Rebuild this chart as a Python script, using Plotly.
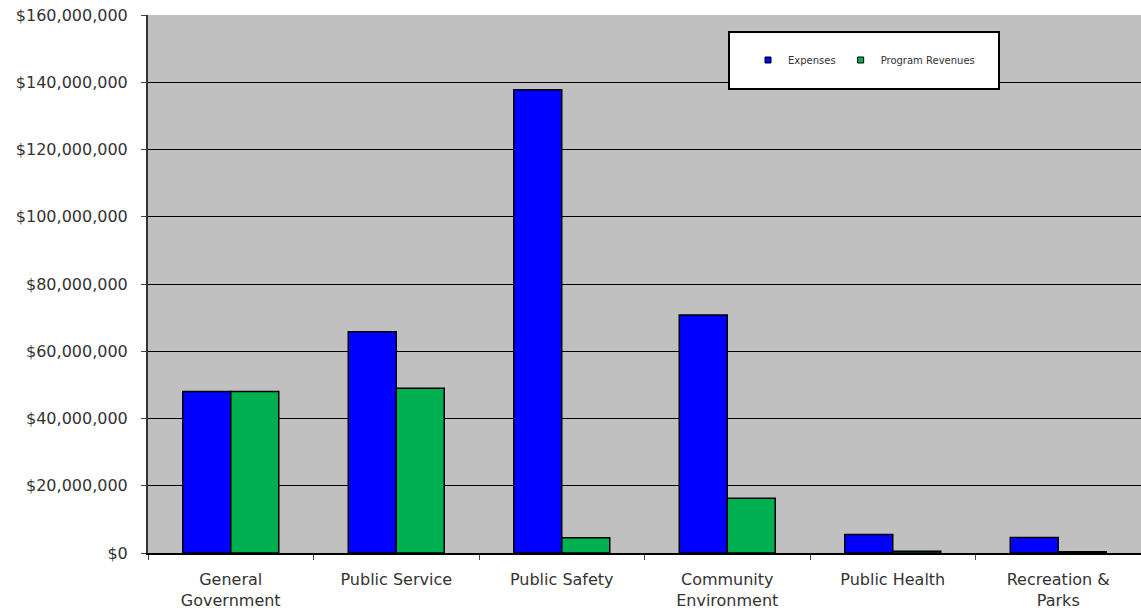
import plotly.graph_objects as go

categories = ["General<br>Government", "Public Service", "Public Safety",
              "Community<br>Environment", "Public Health", "Recreation &<br>Parks"]
expenses = [48000000, 65800000, 137800000, 70800000, 5500000, 4600000]
program_revenues = [48000000, 49000000, 4500000, 16300000, 500000, 400000]
series_names = ["Expenses", "Program Revenues"]
series_colors = ["#0000FF", "#00B050"]

fig = go.Figure()
for name, vals, col in zip(series_names, [expenses, program_revenues], series_colors):
    fig.add_trace(go.Bar(x=categories, y=vals, name=name, showlegend=False,
                         marker=dict(color=col, line=dict(color="black", width=1.5))))
    fig.add_trace(go.Scatter(x=[None], y=[None], mode="markers", name=name,
                             marker=dict(symbol="square", size=6, color=col,
                                         line=dict(color="black", width=1))))

fig.add_shape(type="rect", xref="paper", yref="paper",
              x0=(729 - 148) / 993, x1=(999 - 148) / 993,
              y0=(553 - 89) / 538, y1=(553 - 32) / 538,
              fillcolor="white", line=dict(color="black", width=2), layer="above")

fig.update_layout(
    width=1141, height=614,
    margin=dict(l=148, r=0, t=15, b=61),
    paper_bgcolor="white", plot_bgcolor="#C0C0C0",
    barmode="group", bargap=0.42, bargroupgap=0,
    font=dict(family="DejaVu Sans, Arial", size=16, color="#333"),
    legend=dict(orientation="h", x=(748 - 148) / 993, y=(553 - 60) / 538,
                xanchor="left", yanchor="middle", bgcolor="rgba(0,0,0,0)",
                font=dict(size=10, color="#333"), itemwidth=30),
    xaxis=dict(showline=True, linecolor="black", linewidth=1.5,
               ticks="outside", tickson="boundaries", ticklen=5, tickcolor="#444",
               range=[-0.5, 5.5], showgrid=False, ticklabelstandoff=11),
    yaxis=dict(range=[0, 160000000], dtick=20000000, tickprefix="$", tickformat=",d",
               showline=True, linecolor="#333", linewidth=2,
               ticks="outside", ticklen=5, tickcolor="#444", ticklabelstandoff=10,
               gridcolor="black", gridwidth=1.2, zeroline=False),
)
fig.write_html("out.html")
